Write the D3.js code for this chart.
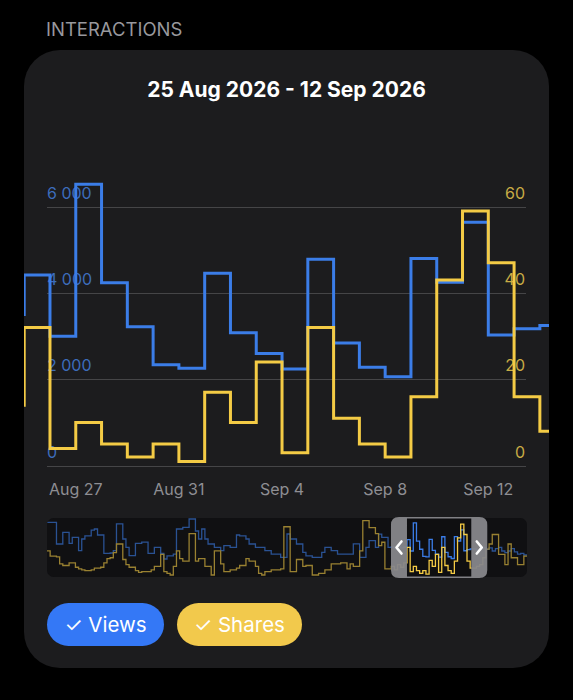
<!DOCTYPE html>
<html><head><meta charset="utf-8">
<script src="https://cdn.jsdelivr.net/npm/d3@7"></script>
<style>
html,body{margin:0;padding:0;background:#000;}
svg{display:block;}
text{font-family:Inter,"Noto Sans","DejaVu Sans",sans-serif;}
</style></head><body>
<svg id="chart" width="573" height="700"></svg>
<script>
// ---------- data ----------
const sectionTitle = "INTERACTIONS";
const rangeTitle = "25 Aug 2026 - 12 Sep 2026";
const rangeStart = "2026-08-25";
const rangeEnd = "2026-09-12";
const seriesNames = ["Views", "Shares"];

const dates = ["2026-08-24","2026-08-25","2026-08-26","2026-08-27","2026-08-28","2026-08-29","2026-08-30","2026-08-31",
  "2026-09-01","2026-09-02","2026-09-03","2026-09-04","2026-09-05","2026-09-06","2026-09-07","2026-09-08",
  "2026-09-09","2026-09-10","2026-09-11","2026-09-12","2026-09-13","2026-09-14","2026-09-15"];
const views = [3500,4420,3000,6520,4240,3220,2340,2260,4460,3080,2600,2240,4780,2840,2280,2060,4800,4250,5640,3030,3170,3250,3250];
const shares = [14,32,4,10,5,2,5,1,17,10,24,3,32,11,5,2,16,43,59,47,16,8,8];

const viewTicks = [0, 2000, 4000, 6000];
const shareTicks = [0, 20, 40, 60];
const xTickDates = ["2026-08-27","2026-08-31","2026-09-04","2026-09-08","2026-09-12"];

// navigator (overview) data: days before and after the detailed series
const navStart = "2026-05-03";
const navEnd = "2026-10-02";
const navViewsBefore = [6580,6580,6580,3875,3875,5330,5330,3950,4700,4700,3040,4500,4900,4900,5600,5750,5000,5000,2700,2700,
  2750,3050,6380,6380,4500,3450,2420,2420,3950,3950,4100,4100,2700,2700,3450,3450,2700,2000,2400,2400,
  2600,5750,5750,5960,5960,7000,7000,5500,4500,5750,4500,3875,3875,3450,3450,3040,3660,3660,3450,3450,
  5000,4900,4900,4500,3875,3875,3450,3450,3450,3040,3040,2620,2620,2620,2200,2200,5125,4500,4500,3875,
  3875,2830,2400,2400,2200,2200,2200,2830,3450,3450,3040,3040,2600,2600,2620,2620,2620,3900,3900,2200,
  2200,3450,4300,4300,3450,5100,4700,4700,3450,3500,3300,3600,3400];
const navViewsAfter = [3100,3300,3400,3200,3400,3000,3300,3450,3000,2800,3000,3300,2900,2600,2700,2500,2500];
const navSharesBefore = [28,22,22,21,13,11,11,14,14,9,7,6,5,5,6,8,8,9,14,19,
  20,26,36,36,18,12,9,9,5,3,4,4,4,6,10,10,24,4,2,0,
  10,28,19,16,16,48,48,16,19,19,10,10,0,28,28,13,4,4,6,6,
  8,11,11,19,16,16,10,2,0,4,4,6,6,6,7,56,56,4,4,18,
  18,10,11,11,0,0,2,2,6,6,13,13,13,14,14,7,13,10,10,28,
  63,63,55,55,48,34,38,7,7,10,6,12,9];
const navSharesAfter = [10,12,20,30,36,47,47,24,24,12,36,20,20,12,12,22,22];

// ---------- drawing ----------
const parse = d3.timeParse("%Y-%m-%d");
const C = { blue: "#3b7de8", yellow: "#f4cb45", grid: "#454547", axis: "#8e8e93" };
const svg = d3.select("#chart");

svg.append("text").attr("x", 46).attr("y", 36).attr("fill", "#98989d")
  .attr("font-size", 18.5).text(sectionTitle);

const card = { x: 24, y: 50, w: 525, h: 618 };
svg.append("rect").attr("x", card.x).attr("y", card.y).attr("width", card.w).attr("height", card.h)
  .attr("rx", 36).attr("fill", "#1c1c1e");

svg.append("text").attr("x", 286.5).attr("y", 97).attr("text-anchor", "middle")
  .attr("fill", "#ffffff").attr("font-size", 21).attr("font-weight", 700).text(rangeTitle);

const x = d3.scaleTime().domain([parse(rangeStart), parse(rangeEnd)]).range([24.2, 488.3]);
const yV = d3.scaleLinear().domain([0, 6000]).range([465.7, 206.7]);
const yS = d3.scaleLinear().domain([0, 60]).range([465.7, 206.7]);

const fmt = d3.formatLocale({ decimal: ".", thousands: " ", grouping: [3], currency: ["", ""] }).format(",d");

// grid
svg.append("g").selectAll("line").data(viewTicks).join("line")
  .attr("x1", 47).attr("x2", 526)
  .attr("y1", d => Math.round(yV(d)) + 0.5).attr("y2", d => Math.round(yV(d)) + 0.5)
  .attr("stroke", C.grid).attr("stroke-width", 1);

// left labels
svg.append("g").selectAll("text").data(viewTicks).join("text")
  .attr("x", 47).attr("y", d => yV(d) - 8)
  .attr("fill", "#3d6cbb").attr("font-size", 16).text(d => fmt(d));
// right labels
svg.append("g").selectAll("text").data(shareTicks).join("text")
  .attr("x", 525).attr("y", d => yS(d) - 8).attr("text-anchor", "end")
  .attr("fill", "#c8ab45").attr("font-size", 16).text(d => d);

// x labels
const tf = d3.timeFormat("%b %-d");
svg.append("g").selectAll("text").data(xTickDates.map(parse)).join("text")
  .attr("x", d => x(d)).attr("y", 495).attr("text-anchor", "middle")
  .attr("fill", C.axis).attr("font-size", 16).text(d => tf(d));

// clip
const defs = svg.append("defs");
defs.append("clipPath").attr("id", "cardClip").append("rect")
  .attr("x", card.x).attr("y", card.y).attr("width", card.w).attr("height", card.h);

const pts = dates.map((d, i) => ({ date: parse(d), v: views[i], s: shares[i] }));
const lineV = d3.line().curve(d3.curveStepAfter).x(d => x(d.date)).y(d => yV(d.v));
const lineS = d3.line().curve(d3.curveStepAfter).x(d => x(d.date)).y(d => yS(d.s));
const gl = svg.append("g").attr("clip-path", "url(#cardClip)");
gl.append("path").datum(pts).attr("d", lineV).attr("fill", "none").attr("stroke", C.blue)
  .attr("stroke-width", 3).attr("stroke-linejoin", "miter");
gl.append("path").datum(pts).attr("d", lineS).attr("fill", "none").attr("stroke", C.yellow)
  .attr("stroke-width", 3).attr("stroke-linejoin", "miter");

// ---------- navigator ----------
const nav = { x: 47, y: 518, w: 480, h: 59 };
const navX = d3.scaleTime().domain([parse(navStart), parse(navEnd)]).range([nav.x, nav.x + nav.w]);
const navYV = d3.scaleLinear().domain([0, 7000]).range([575, 519]);
const navYS = d3.scaleLinear().domain([0, 65]).range([575, 519]);

const navViews = navViewsBefore.concat(views, navViewsAfter);
const navShares = navSharesBefore.concat(shares, navSharesAfter);
const navPts = navViews.map((v, i) => ({ date: d3.timeDay.offset(parse(navStart), i), v, s: navShares[i] }));

defs.append("clipPath").attr("id", "navClip").append("rect")
  .attr("x", nav.x).attr("y", nav.y).attr("width", nav.w).attr("height", nav.h).attr("rx", 7);

svg.append("rect").attr("x", nav.x).attr("y", nav.y).attr("width", nav.w).attr("height", nav.h)
  .attr("rx", 7).attr("fill", "#0f0f11");
const gn = svg.append("g").attr("clip-path", "url(#navClip)");
gn.append("path").datum(navPts)
  .attr("d", d3.line().curve(d3.curveStepAfter).x(d => navX(d.date)).y(d => navYV(d.v)))
  .attr("fill", "none").attr("stroke", C.blue).attr("stroke-width", 1.3);
gn.append("path").datum(navPts)
  .attr("d", d3.line().curve(d3.curveStepAfter).x(d => navX(d.date)).y(d => navYS(d.s)))
  .attr("fill", "none").attr("stroke", C.yellow).attr("stroke-width", 1.3);

const winL = navX(x.invert(card.x));
const winR = navX(x.invert(card.x + card.w));
// dim outside window
gn.append("rect").attr("x", nav.x).attr("y", nav.y).attr("width", winL - nav.x).attr("height", nav.h)
  .attr("fill", "#111113").attr("opacity", 0.4);
gn.append("rect").attr("x", winR).attr("y", nav.y).attr("width", nav.x + nav.w - winR).attr("height", nav.h)
  .attr("fill", "#111113").attr("opacity", 0.4);

// handle frame
const hw = 16, hy0 = 517, hy1 = 578, r = 8;
const outer = `M${winL - hw + r},${hy0} H${winR + hw - r} Q${winR + hw},${hy0} ${winR + hw},${hy0 + r} V${hy1 - r} Q${winR + hw},${hy1} ${winR + hw - r},${hy1} H${winL - hw + r} Q${winL - hw},${hy1} ${winL - hw},${hy1 - r} V${hy0 + r} Q${winL - hw},${hy0} ${winL - hw + r},${hy0} Z`;
const inner = `M${winL},${hy0 + 1.5} H${winR} V${hy1 - 1.5} H${winL} Z`;
svg.append("path").attr("d", outer + " " + inner).attr("fill-rule", "evenodd")
  .attr("fill", "#8a8a8e").attr("opacity", 0.92);

const cy = (hy0 + hy1) / 2;
[[winL - hw / 2, -1], [winR + hw / 2, 1]].forEach(([cx, dir]) => {
  svg.append("path")
    .attr("d", `M${cx - dir * 2.5},${cy - 6} L${cx + dir * 2.5},${cy} L${cx - dir * 2.5},${cy + 6}`)
    .attr("fill", "none").attr("stroke", "#ffffff").attr("stroke-width", 2.6)
    .attr("stroke-linecap", "round").attr("stroke-linejoin", "round");
});

// ---------- legend buttons ----------
const btns = [
  { name: seriesNames[0], x: 47, w: 117, fill: "#3478f6" },
  { name: seriesNames[1], x: 177, w: 125, fill: "#f2c94c" }
];
const gb = svg.append("g");
btns.forEach(b => {
  gb.append("rect").attr("x", b.x).attr("y", 603).attr("width", b.w).attr("height", 43)
    .attr("rx", 21.5).attr("fill", b.fill);
  gb.append("text").attr("x", b.x + b.w / 2).attr("y", 632).attr("text-anchor", "middle")
    .attr("fill", "#ffffff").attr("font-size", 20.5).text("\u2713 " + b.name);
});
</script>
</body></html>
